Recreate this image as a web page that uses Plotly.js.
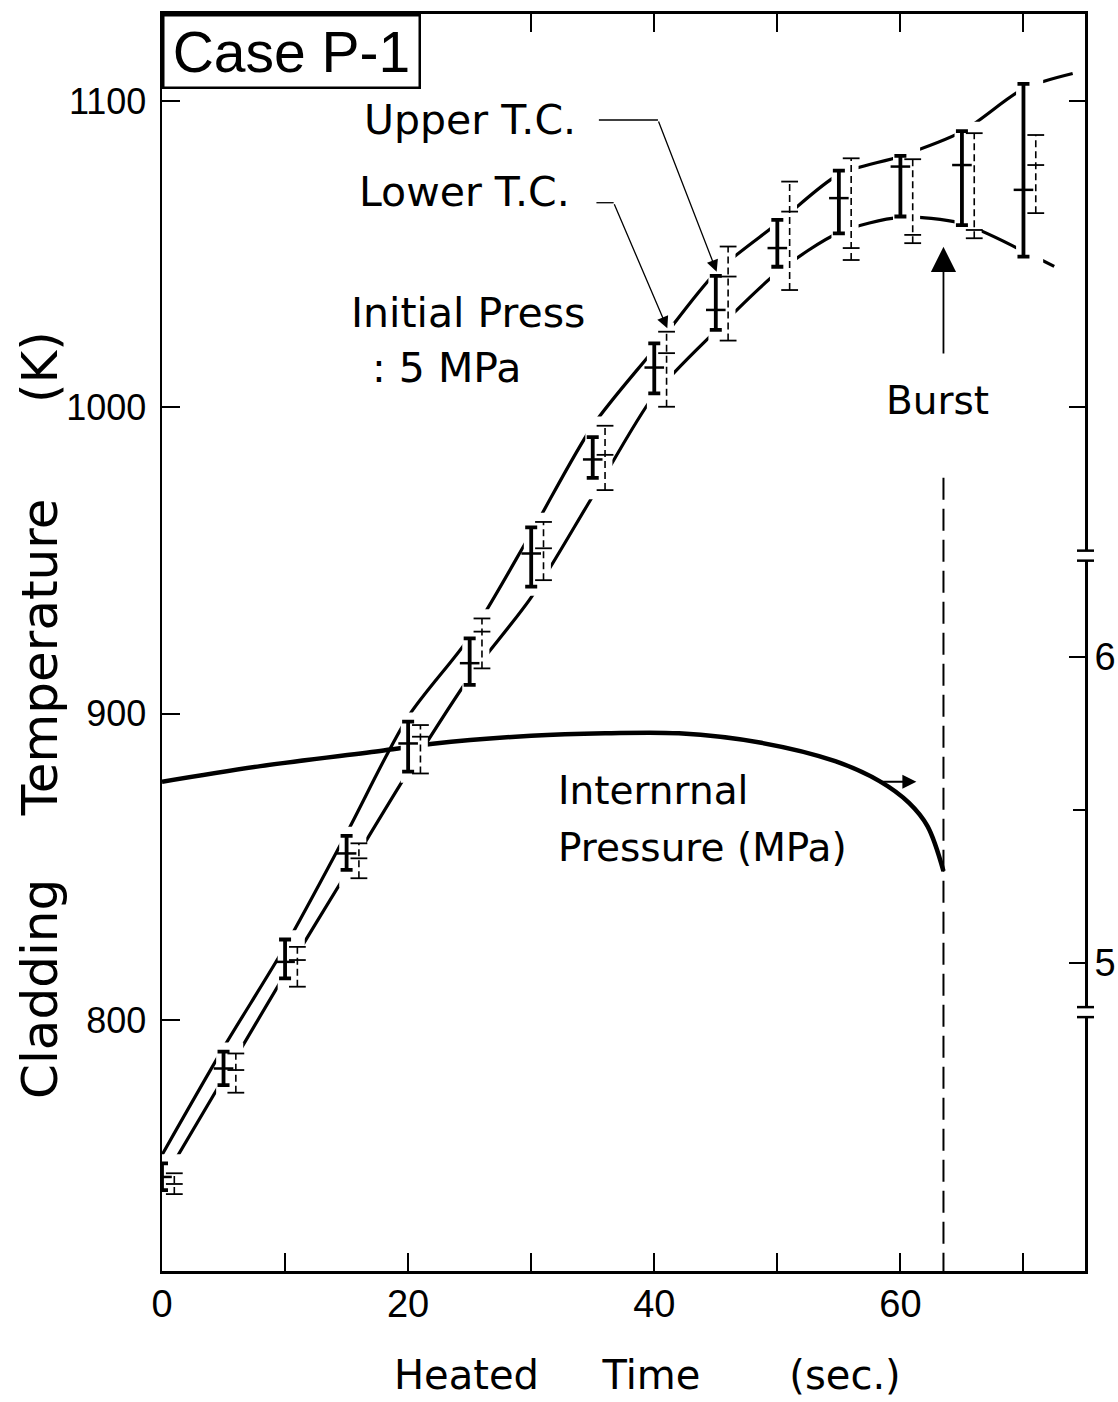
<!DOCTYPE html>
<html>
<head>
<meta charset="utf-8">
<script src="https://cdn.plot.ly/plotly-3.0.1.min.js"></script>
<style>
  html, body { margin: 0; padding: 0; background: #ffffff; }
  #chart { width: 1118px; height: 1402px; }
</style>
</head>
<body>
<div id="chart"></div>
<script>
// ---- Thermocouple readings: range (low / high) and mean, in K ----
const upperTcTimes = [0, 5, 10, 15, 20, 25, 30, 35, 40, 45, 50, 55, 60, 65, 70];
const upperTcLow   = [744.5, 778.8, 813.6, 849.0, 881.1, 909.4, 941.5, 977.0, 1004.6, 1025.3, 1045.9, 1056.8, 1062.3, 1059.5, 1049.2];
const upperTcMean  = [748.8, 784.2, 819.0, 854.4, 890.3, 916.5, 952.3, 983.0, 1013.0, 1031.8, 1052.0, 1068.3, 1078.6, 1079.1, 1071.0];
const upperTcHigh  = [753.2, 789.7, 826.3, 860.1, 897.4, 924.6, 960.8, 990.3, 1020.9, 1042.9, 1061.2, 1077.3, 1082.1, 1090.2, 1105.6];

const lowerTcTimes = [1, 6, 11, 16, 21, 26, 31, 36, 41, 46, 51, 56, 61, 66, 71];
const lowerTcLow   = [743.2, 776.3, 810.9, 846.3, 880.5, 914.8, 943.6, 973.0, 1000.2, 1021.8, 1038.3, 1048.1, 1053.6, 1055.2, 1063.4];
const lowerTcMean  = [746.5, 783.7, 819.6, 852.8, 892.5, 926.8, 954.0, 984.5, 1017.7, 1042.7, 1063.9, 1052.0, 1056.3, 1057.9, 1079.1];
const lowerTcHigh  = [750.0, 789.1, 823.9, 857.7, 896.3, 931.1, 962.6, 994.0, 1024.7, 1052.5, 1073.7, 1081.3, 1081.0, 1089.5, 1088.9];

// ---- Envelope curves through the scatter bands (K) ----
const upperCurveTimes = [0, 5, 10, 15, 20, 25, 30, 35, 40, 45, 50, 55, 60, 65, 70, 74];
const upperCurveTemp  = [756, 791, 824, 861, 899, 925, 959, 994, 1019, 1044, 1060, 1076, 1082, 1090, 1104, 1109];
const lowerCurveTimes = [0, 5, 10, 15, 20, 25, 30, 35, 40, 45, 50, 55, 60, 65, 70, 72.5];
const lowerCurveTemp  = [747, 781, 815, 848, 881, 912, 938, 971, 1004, 1025, 1044, 1057, 1062, 1060, 1051, 1046];

// ---- Internal pressure (MPa) ----
const pressureTimes = [0, 8, 18, 22, 30, 36, 42, 48.7, 54.7, 58.3, 60.7, 62.2, 63.5];
const pressureValues = [5.592, 5.643, 5.694, 5.716, 5.742, 5.750, 5.750, 5.719, 5.659, 5.594, 5.523, 5.447, 5.300];

// ---- Burst ----
const burstTime = 63.5;
const burstLineTemp = [977, 718.1];

// ---- Axes ----
const timeTicks = [0, 10, 20, 30, 40, 50, 60, 70];
const timeTickText = ['0', '', '20', '', '40', '', '60', ''];
const tempTicks = [800, 900, 1000, 1100];
const tempRightTicks = [1000, 1100];
const pressureTicks = [5, 6];
const pressureMinorTicks = [5.5];
const pressureAxisBreaks = [4.84, 6.33];
const tempRange = [718.1, 1128.4];
const pressureRange = [3.995, 8.098];
const timeRange = [0, 75];

const ink = '#000000';
const letterFont = 'DejaVu Sans, sans-serif';
const numberFont = 'Liberation Sans, Arial, sans-serif';

// White clearance around each pair of bars so the curves stop short of them
const haloX = [], haloY = [];
upperTcTimes.forEach((t, i) => {
  const x0 = t - 0.6, x1 = lowerTcTimes[i] + 0.6;
  const y0 = Math.min(upperTcLow[i], lowerTcLow[i]) - 3;
  const y1 = Math.max(upperTcHigh[i], lowerTcHigh[i]) + 3;
  haloX.push(x0, x1, x1, x0, x0, null);
  haloY.push(y0, y0, y1, y1, y0, null);
});

// Dashed range lines for the lower thermocouple
const dashX = [], dashY = [];
lowerTcTimes.forEach((t, i) => {
  dashX.push(t, t, null);
  dashY.push(lowerTcLow[i], lowerTcHigh[i], null);
});

const traces = [
  {
    x: pressureTimes, y: pressureValues, yaxis: 'y',
    mode: 'lines', line: { color: ink, width: 4.5, shape: 'spline', smoothing: 1 },
    hoverinfo: 'skip', showlegend: false
  },
  {
    x: upperCurveTimes, y: upperCurveTemp, yaxis: 'y2',
    mode: 'lines', line: { color: ink, width: 3.2, shape: 'spline', smoothing: 0.8 },
    hoverinfo: 'skip', showlegend: false
  },
  {
    x: lowerCurveTimes, y: lowerCurveTemp, yaxis: 'y2',
    mode: 'lines', line: { color: ink, width: 3.2, shape: 'spline', smoothing: 0.8 },
    hoverinfo: 'skip', showlegend: false
  },
  {
    x: haloX, y: haloY, yaxis: 'y2',
    mode: 'lines', fill: 'toself', fillcolor: '#ffffff', line: { width: 0, color: 'rgba(0,0,0,0)' },
    hoverinfo: 'skip', showlegend: false
  },
  {
    x: dashX, y: dashY, yaxis: 'y2',
    mode: 'lines', line: { color: ink, width: 1.6, dash: '7px,4px' },
    hoverinfo: 'skip', showlegend: false
  },
  {
    x: lowerTcTimes.concat(lowerTcTimes, lowerTcTimes),
    y: lowerTcLow.concat(lowerTcMean, lowerTcHigh), yaxis: 'y2',
    mode: 'markers',
    marker: { symbol: 'line-ew', size: 12, color: ink, line: { color: ink, width: 1.8 } },
    hoverinfo: 'skip', showlegend: false
  },
  {
    x: upperTcTimes, y: upperTcMean, yaxis: 'y2',
    mode: 'markers',
    marker: { symbol: 'line-ew', size: 14, color: ink, line: { color: ink, width: 2.5 } },
    error_y: {
      type: 'data', symmetric: false,
      array: upperTcHigh.map((h, i) => h - upperTcMean[i]),
      arrayminus: upperTcMean.map((m, i) => m - upperTcLow[i]),
      color: ink, thickness: 3.8, width: 6
    },
    hoverinfo: 'skip', showlegend: false
  },
  {
    x: [burstTime, burstTime], y: burstLineTemp, yaxis: 'y3',
    mode: 'lines', line: { color: ink, width: 2, dash: '22px,9px' },
    hoverinfo: 'skip', showlegend: false
  }
];

const shapes = [
  // horizontal runs of the label leaders
  { type: 'line', xref: 'x', yref: 'y2', x0: 35.5, x1: 40.3, y0: 1093.8, y1: 1093.8, line: { color: ink, width: 1.3 } },
  { type: 'line', xref: 'x', yref: 'y2', x0: 35.3, x1: 36.7, y0: 1066.8, y1: 1066.8, line: { color: ink, width: 1.3 } }
];
// axis break marks on the pressure scale
pressureAxisBreaks.forEach(b => {
  shapes.push({ type: 'rect', xref: 'paper', xsizemode: 'pixel', xanchor: 1, x0: -4, x1: 4,
    yref: 'y', ysizemode: 'pixel', yanchor: b, y0: -5, y1: 5, fillcolor: '#ffffff', line: { width: 0 } });
  shapes.push({ type: 'line', xref: 'paper', xsizemode: 'pixel', xanchor: 1, x0: -8, x1: 9,
    yref: 'y', ysizemode: 'pixel', yanchor: b, y0: 5, y1: 5, line: { color: ink, width: 2.5 } });
  shapes.push({ type: 'line', xref: 'paper', xsizemode: 'pixel', xanchor: 1, x0: -8, x1: 9,
    yref: 'y', ysizemode: 'pixel', yanchor: b, y0: -5, y1: -5, line: { color: ink, width: 2.5 } });
});

const labelFont = { family: letterFont, size: 39, color: ink };
const topLabelFont = { family: letterFont, size: 41, color: ink };
const nb = '\u00a0';

const annotations = [
  { xref: 'paper', yref: 'paper', x: 0, y: 1, xanchor: 'left', yanchor: 'top',
    text: 'Case P-1', showarrow: false, width: 254, height: 70,
    bordercolor: ink, borderwidth: 2.5, borderpad: 0, bgcolor: '#ffffff',
    font: { family: numberFont, size: 57, color: ink } },
  { xref: 'x', yref: 'y2', x: 25.0, y: 1093.8, text: 'Upper T.C.', showarrow: false, font: topLabelFont },
  { xref: 'x', yref: 'y2', x: 24.6, y: 1070.3, text: 'Lower T.C.', showarrow: false, font: topLabelFont },
  { xref: 'x', yref: 'y2', x: 24.85, y: 1030.8, text: 'Initial' + nb + 'Press', showarrow: false, font: topLabelFont },
  { xref: 'x', yref: 'y2', x: 23.1, y: 1012.9, text: ':' + nb + '5' + nb + 'MPa', showarrow: false, font: topLabelFont },
  { xref: 'x', yref: 'y2', x: 63.0, y: 1002.4, text: 'Burst', showarrow: false, font: labelFont },
  { xref: 'x', yref: 'y2', x: 32.0, y: 875.1, xanchor: 'left', text: 'Internrnal', showarrow: false, font: labelFont },
  { xref: 'x', yref: 'y2', x: 32.0, y: 856.2, xanchor: 'left', text: 'Pressure (MPa)', showarrow: false, font: labelFont },
  // leader arrows
  { xref: 'x', yref: 'y2', axref: 'x', ayref: 'y2', x: 45.07, y: 1044.3, ax: 40.3, ay: 1093.8,
    text: '', showarrow: true, arrowhead: 2, arrowsize: 1.8, arrowwidth: 1.3, arrowcolor: ink, standoff: 0 },
  { xref: 'x', yref: 'y2', axref: 'x', ayref: 'y2', x: 41.06, y: 1025.8, ax: 36.7, ay: 1066.8,
    text: '', showarrow: true, arrowhead: 2, arrowsize: 1.8, arrowwidth: 1.3, arrowcolor: ink, standoff: 0 },
  // burst arrow
  { xref: 'x', yref: 'y2', axref: 'x', ayref: 'y2', x: burstTime, y: 1052.4, ax: burstTime, ay: 1017.1,
    text: '', showarrow: true, arrowhead: 2, arrowsize: 2.8, arrowwidth: 1.8, arrowcolor: ink, standoff: 0 },
  // pressure curve refers to the right-hand scale
  { xref: 'x', yref: 'y', axref: 'x', ayref: 'y', x: 61.3, y: 5.592, ax: 58.3, ay: 5.592,
    text: '', showarrow: true, arrowhead: 2, arrowsize: 1.4, arrowwidth: 2, arrowcolor: ink, standoff: 0 },
  // axis titles
  { xref: 'paper', yref: 'paper', x: 0.5255, y: -0.0827, xanchor: 'center', yanchor: 'middle',
    text: 'Heated' + nb.repeat(5) + 'Time' + nb.repeat(7) + '(sec.)', showarrow: false,
    font: { family: letterFont, size: 40, color: ink } },
  { xref: 'paper', yref: 'paper', x: -0.1322, y: 0.4423, xanchor: 'center', yanchor: 'middle', textangle: -90,
    text: 'Cladding' + nb.repeat(4) + 'Temperature' + nb.repeat(6) + '(K)', showarrow: false,
    font: { family: letterFont, size: 50, color: ink } }
];

const layout = {
  width: 1118, height: 1402,
  margin: { l: 162, r: 33, t: 14, b: 131, pad: 0 },
  paper_bgcolor: '#ffffff', plot_bgcolor: '#ffffff',
  showlegend: false,
  xaxis: {
    range: timeRange, tickmode: 'array', tickvals: timeTicks, ticktext: timeTickText,
    ticks: 'inside', ticklen: 18, tickwidth: 2, tickcolor: ink,
    showline: true, linewidth: 3, linecolor: ink, mirror: 'ticks',
    showgrid: false, zeroline: false, ticklabelstandoff: -3,
    tickfont: { family: numberFont, size: 38, color: ink }
  },
  yaxis: {
    range: pressureRange, side: 'right', anchor: 'x',
    tickmode: 'array', tickvals: pressureTicks, ticktext: pressureTicks.map(String),
    ticks: 'inside', ticklen: 16, tickwidth: 2, tickcolor: ink,
    minor: { tickmode: 'array', tickvals: pressureMinorTicks, ticks: 'inside', ticklen: 12, tickwidth: 2, tickcolor: ink, showgrid: false },
    showline: true, linewidth: 3, linecolor: ink,
    showgrid: false, zeroline: false, ticklabelstandoff: -1,
    tickfont: { family: numberFont, size: 38, color: ink }
  },
  yaxis2: {
    range: tempRange, side: 'left', overlaying: 'y', anchor: 'x',
    tickmode: 'array', tickvals: tempTicks, ticktext: tempTicks.map(String),
    ticks: 'inside', ticklen: 18, tickwidth: 2, tickcolor: ink,
    showline: true, linewidth: 2.5, linecolor: ink,
    showgrid: false, zeroline: false, ticklabelstandoff: 6,
    tickfont: { family: numberFont, size: 36, color: ink }
  },
  yaxis3: {
    range: tempRange, side: 'right', overlaying: 'y', anchor: 'x',
    tickmode: 'array', tickvals: tempRightTicks,
    ticks: 'inside', ticklen: 16, tickwidth: 2, tickcolor: ink,
    showticklabels: false, showline: false, showgrid: false, zeroline: false
  },
  shapes: shapes,
  annotations: annotations
};

Plotly.newPlot('chart', traces, layout, { staticPlot: true, displayModeBar: false });
</script>
</body>
</html>
